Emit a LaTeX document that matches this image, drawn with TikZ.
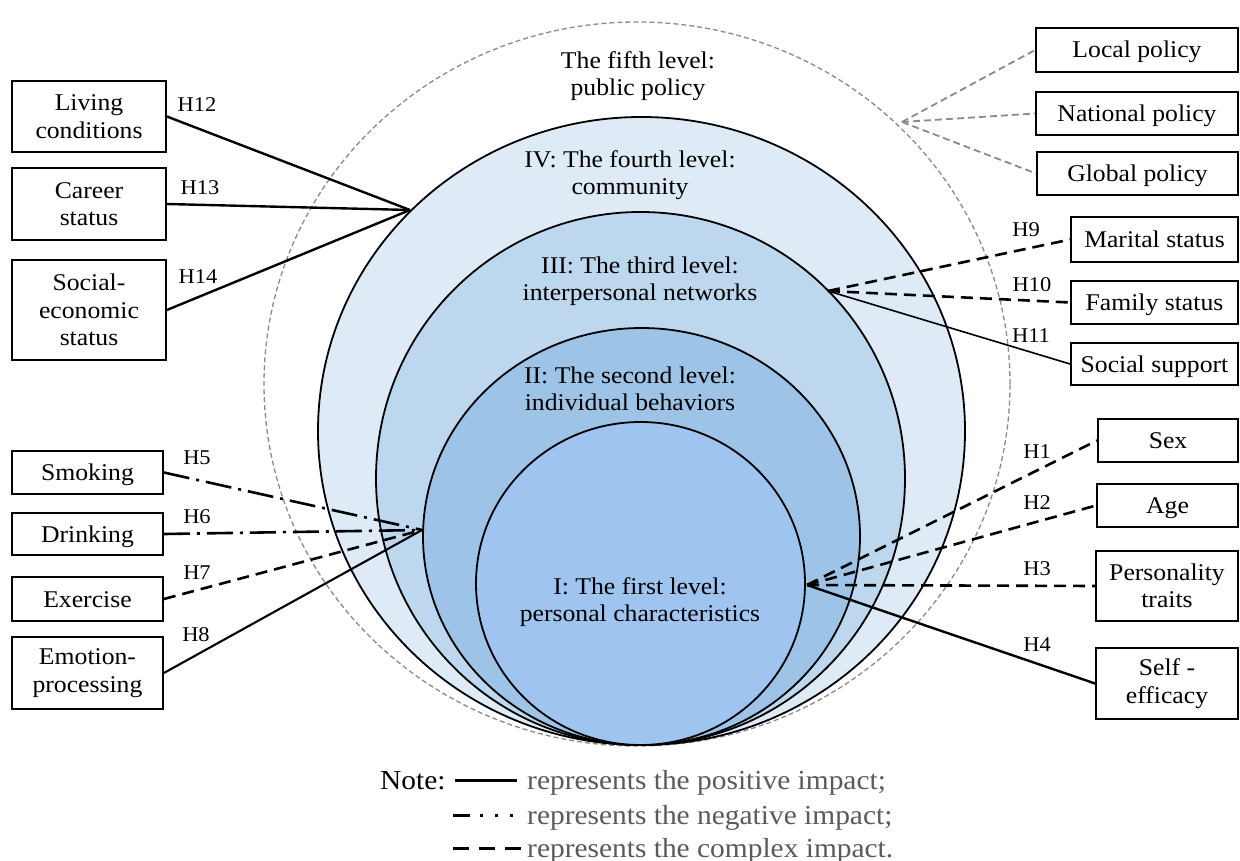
\documentclass[tikz,border=0pt]{standalone}
\usepackage{fontspec}
\setmainfont{Liberation Serif}[FakeStretch=1.07]
\definecolor{cIV}{HTML}{DEEBF7}
\definecolor{cIII}{HTML}{BDD7EE}
\definecolor{cII}{HTML}{9DC3E6}
\definecolor{cI}{HTML}{A0C4F0}
\definecolor{dgray}{HTML}{8A8A8A}
\definecolor{legtxt}{HTML}{5A5A5A}
\begin{document}
\begin{tikzpicture}[x=1pt,y=-1pt,
  every node/.style={font=\fontsize{24}{27.5}\selectfont, inner sep=0pt},
  box/.style={draw, line width=1.8pt, fill=white, align=center},
  one/.style={text height=16pt, text depth=0pt},
  lvl/.style={draw, line width=1.8pt},
  hlab/.style={font=\fontsize{21}{24}\selectfont},
  lvltext/.style={align=center},
  posline/.style={line width=2.4pt},
  thinpos/.style={line width=1.6pt},
  negline/.style={line width=2.6pt, dash pattern=on 26pt off 7pt on 3pt off 7pt},
  cplx/.style={line width=2.6pt, dash pattern=on 12pt off 7pt},
  polline/.style={line width=1.8pt, dgray, dash pattern=on 7pt off 4pt},
  legend/.style={font=\fontsize{27.5}{30}\selectfont, text height=18.5pt, text depth=0pt}
]
\useasboundingbox (0,0) rectangle (1240,861);

% level circles
\draw[dgray, line width=1.3pt, dash pattern=on 5pt off 3pt] (637,384) ellipse [x radius=373pt, y radius=362pt];
\draw[lvl, fill=cIV] (641.5,431) ellipse [x radius=323.5pt, y radius=314pt];
\draw[lvl, fill=cIII] (640.5,478.5) ellipse [x radius=264.5pt, y radius=266.5pt];
\draw[lvl, fill=cII] (641.5,536.5) ellipse [x radius=218.5pt, y radius=208.5pt];
\draw[lvl, fill=cI] (640.5,583.5) ellipse [x radius=164.5pt, y radius=161.5pt];

\node[lvltext] (t5) at (638,76) {The fifth level:\\public policy};
\node[lvltext] (t4) at (630,175) {IV: The fourth level:\\community};
\node[lvltext] (t3) at (640,281) {III: The third level:\\interpersonal networks};
\node[lvltext] (t2) at (630,389) {II: The second level:\\individual behaviors};
\node[lvltext] (t1) at (640,602) {I: The first level:\\personal characteristics};

% convergence points
\coordinate (cA) at (410,210);
\coordinate (cB) at (422,530);
\coordinate (cC) at (828,291);
\coordinate (cD) at (807,585);
\coordinate (cE) at (902,122);

% left boxes
\node[box, minimum width=154pt, minimum height=71pt] (living) at (89,116.5) {Living\\conditions};
\node[box, minimum width=154pt, minimum height=72pt] (career) at (89,204) {Career\\status};
\node[box, minimum width=154pt, minimum height=100pt] (socio) at (89,310) {Social-\\economic\\status};
\node[box, one, minimum width=151pt, minimum height=43pt] (smoking) at (87.5,472.5) {Smoking};
\node[box, one, minimum width=151pt, minimum height=42pt] (drinking) at (87.5,534) {Drinking};
\node[box, one, minimum width=151pt, minimum height=44pt] (exercise) at (87.5,599) {Exercise};
\node[box, minimum width=151pt, minimum height=72pt] (emotion) at (87.5,673) {Emotion-\\processing};

% right boxes
\node[box, one, minimum width=202pt, minimum height=44pt] (local) at (1137,50) {Local policy};
\node[box, one, minimum width=202pt, minimum height=43pt] (national) at (1137,113.5) {National policy};
\node[box, one, minimum width=201pt, minimum height=43pt] (global) at (1137.5,173.5) {Global policy};
\node[box, one, minimum width=167pt, minimum height=45pt] (marital) at (1154.5,239.5) {Marital status};
\node[box, one, minimum width=167pt, minimum height=43pt] (family) at (1154.5,302.5) {Family status};
\node[box, one, minimum width=167pt, minimum height=42pt] (support) at (1154.5,364) {Social support};
\node[box, one, minimum width=140pt, minimum height=43pt] (sex) at (1168,440.5) {Sex};
\node[box, one, minimum width=141pt, minimum height=43pt] (age) at (1167.5,505.5) {Age};
\node[box, minimum width=142pt, minimum height=70pt] (personality) at (1167,586) {Personality\\traits};
\node[box, minimum width=142pt, minimum height=71pt] (selfeff) at (1167,683.5) {Self -\\efficacy};

% connectors
\draw[posline] (living.east) -- (cA);
\draw[posline] (career.east) -- (cA);
\draw[posline] (socio.east) -- (cA);
\draw[negline] (smoking.east) -- (cB);
\draw[negline] (drinking.east) -- (cB);
\draw[cplx] (exercise.east) -- (cB);
\draw[posline, line width=2.1pt] (emotion.east) -- (cB);
\draw[cplx] (cC) -- (marital.west);
\draw[cplx] (cC) -- (family.west);
\draw[thinpos] (cC) -- (support.west);
\draw[cplx] (cD) -- (sex.west);
\draw[cplx] (cD) -- (age.west);
\draw[cplx] (cD) -- (personality.west);
\draw[posline] (cD) -- (selfeff.west);
\draw[polline] (cE) -- (local.west);
\draw[polline] (cE) -- (national.west);
\draw[polline] (cE) -- (global.west);

% hypothesis labels
\node[hlab] (h12) at (197,105) {H12};
\node[hlab] (h13) at (200,188) {H13};
\node[hlab] (h14) at (198,277) {H14};
\node[hlab] (h5) at (197,458) {H5};
\node[hlab] (h6) at (197,517) {H6};
\node[hlab] (h7) at (197,573) {H7};
\node[hlab] (h8) at (196,635) {H8};
\node[hlab] (h9) at (1026,230) {H9};
\node[hlab] (h10) at (1032,285) {H10};
\node[hlab] (h11) at (1031,336) {H11};
\node[hlab] (h1) at (1037,452) {H1};
\node[hlab] (h2) at (1037,503) {H2};
\node[hlab] (h3) at (1037,569) {H3};
\node[hlab] (h4) at (1037,645) {H4};

% legend
\node[legend, anchor=west] (note) at (380,780) {Note:};
\coordinate (la1) at (455,780); \coordinate (la2) at (517,780);
\coordinate (lb1) at (453,815); \coordinate (lb2) at (514,815);
\coordinate (lc1) at (453,848); \coordinate (lc2) at (522,848);
\draw[line width=3pt] (la1) -- (la2);
\draw[line width=3pt, dash pattern=on 17pt off 10pt on 3pt off 12pt on 3pt off 12pt on 3pt off 40pt] (lb1) -- (lb2);
\draw[line width=3pt, dash pattern=on 16pt off 10pt] (lc1) -- (lc2);
\node[legend, legtxt, anchor=west] (leg1) at (527,780) {represents the positive impact;};
\node[legend, legtxt, anchor=west] (leg2) at (527,815) {represents the negative impact;};
\node[legend, legtxt, anchor=west] (leg3) at (527,848) {represents the complex impact.};
\end{tikzpicture}
\end{document}
